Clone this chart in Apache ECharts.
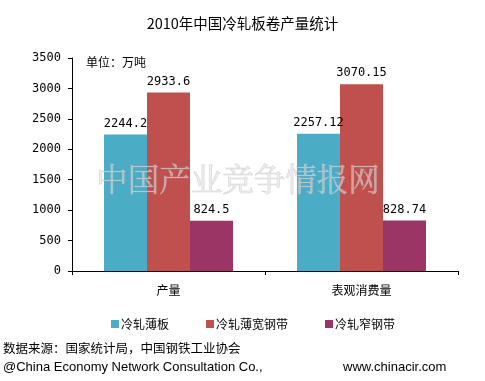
<!DOCTYPE html>
<html><head><meta charset="utf-8">
<script src="https://cdn.jsdelivr.net/npm/echarts@6/dist/echarts.min.js"></script>
<style>html,body{margin:0;padding:0;background:#fff}#c{width:485px;height:381px}</style>
</head><body><div id="c"></div>
<script>
const categories = ['产量', '表观消费量'];
const seriesNames = ['冷轧薄板', '冷轧薄宽钢带', '冷轧窄钢带'];
const sheet = [2244.2, 2257.12];
const wideStrip = [2933.6, 3070.15];
const narrowStrip = [824.5, 828.74];
const labelsText = [['2244.2', '2257.12'], ['2933.6', '3070.15'], ['824.5', '828.74']];
const yTicks = [0, 500, 1000, 1500, 2000, 2500, 3000, 3500];
const colors = ['#4BACC6', '#C0504D', '#9B3566'];
const cjk = '"Noto Sans CJK SC", sans-serif';
const mono = '"DejaVu Sans Mono", monospace';

const chart = echarts.init(document.getElementById('c'), null, {renderer: 'canvas'});
const values = [sheet, wideStrip, narrowStrip];
chart.setOption({
  animation: false,
  backgroundColor: '#fff',
  title: {
    text: '2010年中国冷轧板卷产量统计', left: 'center', top: 11,
    textStyle: {fontFamily: cjk, fontSize: 14.5, fontWeight: 'normal', color: '#000'}
  },
  grid: {left: 72, right: 27, top: 58, bottom: 110},
  legend: {
    left: 106, top: 313, itemWidth: 8, itemHeight: 8, itemGap: 37,
    icon: 'rect',
    textStyle: {fontFamily: cjk, fontSize: 12, color: '#000', padding: [0, 0, 0, -3]},
    data: seriesNames
  },
  xAxis: {
    type: 'category', data: categories,
    axisLine: {lineStyle: {color: '#000', width: 1}},
    axisTick: {show: true, length: 4, lineStyle: {color: '#000'}},
    axisLabel: {fontFamily: cjk, fontSize: 12, color: '#000', margin: 13}
  },
  yAxis: {
    type: 'value', min: 0, max: 3500, interval: 500,
    splitLine: {show: false},
    axisLine: {show: true, lineStyle: {color: '#000', width: 1}},
    axisTick: {show: true, length: 4, lineStyle: {color: '#000'}},
    axisLabel: {fontFamily: mono, fontSize: 12, color: '#000', margin: 11,
      formatter: v => yTicks.includes(v) ? String(v) : ''}
  },
  series: seriesNames.map((n, i) => ({
    name: n, type: 'bar', data: values[i],
    barWidth: 43, barGap: '0%',
    itemStyle: {color: colors[i]},
    label: {show: true, position: 'top', distance: 5, fontFamily: mono, fontSize: 12, color: '#000',
      formatter: p => labelsText[i][p.dataIndex]}
  })),
  graphic: [
    {type: 'text', left: 86, top: 56, z: 10,
      style: {text: '单位：万吨', font: '12px ' + cjk, fill: '#000'}},
    {type: 'text', left: 96, top: 163, z: 100, silent: true,
      style: {text: '中国产业竞争情报网', font: '31.5px "Noto Serif CJK SC", ' + cjk, fill: 'rgba(225,225,225,0.55)', stroke: 'rgba(175,175,175,0.55)', lineWidth: 0.7}},
    {type: 'text', left: 3, top: 342,
      style: {text: '数据来源：国家统计局，中国钢铁工业协会', font: '12.5px ' + cjk, fill: '#000'}},
    {type: 'text', left: 3, top: 361,
      style: {text: '@China Economy Network Consultation Co.,', font: '13px "Liberation Sans", Arial, sans-serif', fill: '#000'}},
    {type: 'text', left: 343, top: 361,
      style: {text: 'www.chinacir.com', font: '13px "Liberation Sans", Arial, sans-serif', fill: '#000'}}
  ]
});
</script></body></html>
